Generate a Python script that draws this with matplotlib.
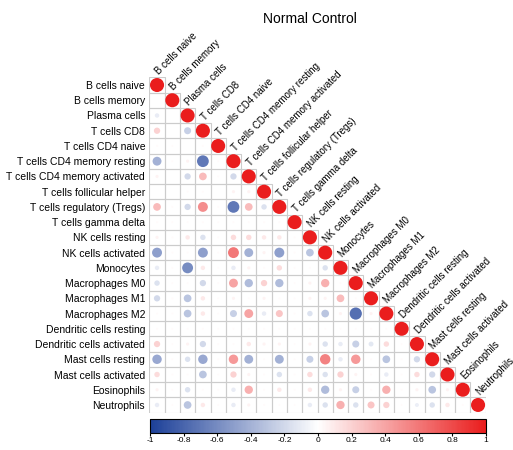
import numpy as np
import matplotlib
matplotlib.use("Agg")
import matplotlib.pyplot as plt
from matplotlib.patches import Circle, Rectangle
from matplotlib.colors import LinearSegmentedColormap, Normalize
from matplotlib.cm import ScalarMappable

plt.rcParams['font.family'] = ['Liberation Sans', 'DejaVu Sans']

cell_types = ["B cells naive", "B cells memory", "Plasma cells", "T cells CD8",
              "T cells CD4 naive", "T cells CD4 memory resting",
              "T cells CD4 memory activated", "T cells follicular helper",
              "T cells regulatory (Tregs)", "T cells gamma delta",
              "NK cells resting", "NK cells activated", "Monocytes",
              "Macrophages M0", "Macrophages M1", "Macrophages M2",
              "Dendritic cells resting", "Dendritic cells activated",
              "Mast cells resting", "Mast cells activated", "Eosinophils",
              "Neutrophils"]

# lower triangle of the correlation matrix (row i holds columns 0..i-1)
lower_rows = [
    [],
    [0.0],
    [-0.1, 0.0],
    [0.2, 0.0, -0.25],
    [0.02, 0.02, 0.0, 0.02],
    [-0.4, 0.02, 0.05, -0.7, 0.02],
    [0.05, 0.0, -0.2, 0.3, 0.02, -0.2],
    [0.0, 0.0, 0.02, 0.02, 0.0, 0.05, 0.05],
    [0.3, 0.02, -0.2, 0.5, 0.02, -0.7, 0.3, -0.15],
    [0.02, 0.02, 0.02, 0.02, 0.02, 0.02, 0.02, 0.02, 0.02],
    [0.05, 0.02, 0.1, -0.15, 0.02, 0.15, 0.15, 0.1, 0.1, 0.02],
    [-0.5, 0.02, 0.02, -0.5, 0.02, 0.6, -0.4, 0.05, -0.5, 0.02, -0.3],
    [-0.1, 0.02, -0.6, 0.1, 0.02, -0.1, 0.05, 0.02, 0.15, 0.02, 0.02, -0.15],
    [-0.15, 0.02, 0.02, -0.2, 0.02, 0.4, -0.35, 0.2, -0.35, 0.02, 0.05, 0.35, 0.02],
    [-0.2, 0.02, -0.3, 0.1, 0.02, 0.05, 0.02, 0.05, 0.02, 0.02, 0.05, 0.05, 0.3, 0.02],
    [0.02, 0.02, -0.3, 0.1, 0.02, -0.25, 0.4, -0.1, 0.25, 0.02, -0.15, -0.3, 0.05, -0.75, 0.05],
    [0.02] * 16,
    [0.2, 0.02, 0.05, -0.2, 0.02, 0.02, 0.1, 0.05, 0.05, 0.02, 0.05, -0.15, -0.1,
     -0.25, -0.12, 0.15, 0.02],
    [-0.45, 0.02, -0.15, -0.45, 0.02, 0.45, -0.4, 0.02, -0.4, 0.02, -0.25, 0.55,
     -0.1, 0.45, 0.02, -0.3, 0.02, -0.2],
    [0.15, 0.02, 0.02, -0.3, 0.02, 0.2, 0.05, 0.02, -0.15, 0.02, 0.15, -0.15, 0.2,
     0.05, 0.02, -0.1, 0.02, 0.15, -0.2],
    [0.05, 0.02, -0.15, 0.02, 0.02, -0.1, 0.35, 0.02, 0.1, 0.02, 0.1, -0.35, 0.05,
     -0.25, 0.02, 0.35, 0.02, 0.05, -0.3, 0.05],
    [-0.1, 0.02, -0.3, 0.1, 0.02, -0.1, 0.05, 0.02, 0.02, 0.02, -0.1, -0.15, 0.35,
     -0.15, 0.25, 0.2, 0.02, -0.08, -0.15, 0.1, 0.02],
]

n = len(cell_types)
corr = np.eye(n)
for i, row in enumerate(lower_rows):
    for j, v in enumerate(row):
        corr[i, j] = v
        corr[j, i] = v

cmap = LinearSegmentedColormap.from_list("bwr_corr", ["#1c3f98", "#ffffff", "#ea1d1d"])
norm = Normalize(-1, 1)

fig = plt.figure(figsize=(5.13, 4.5), dpi=100)
ax = fig.add_axes([0.2912, 0.0831, 0.6556, 0.7449])
ax.set_xlim(-0.5, n - 0.5)
ax.set_ylim(n - 0.5, -0.5)

for i in range(n):
    for j in range(i + 1):
        ax.add_patch(Rectangle((j - 0.5, i - 0.5), 1, 1, facecolor='none',
                               edgecolor='#cccccc', linewidth=0.8))
        v = corr[i, j]
        rad = 0.46 * np.sqrt(abs(v))
        ax.add_patch(Circle((j, i), rad, facecolor=cmap(norm(v)), edgecolor='none'))

for s in ax.spines.values():
    s.set_visible(False)
ax.set_xticks([])
ax.set_yticks(range(n))
ax.set_yticklabels(cell_types, fontsize=7.5)
ax.tick_params(axis='y', length=0, pad=3)

for j, name in enumerate(cell_types):
    ax.text(j + 0.2, j - 0.55, name, rotation=45, rotation_mode='anchor',
            ha='left', va='bottom', fontsize=7)

fig.text(0.604, 0.958, "Normal Control", ha='center', va='center', fontsize=10)

cax = fig.add_axes([0.2924, 0.0378, 0.655, 0.031])
cb = fig.colorbar(ScalarMappable(norm=norm, cmap=cmap), cax=cax, orientation='horizontal')
ticks = np.round(np.arange(-1, 1.01, 0.2), 1)
cb.set_ticks(ticks)
cb.set_ticklabels(['-1' if t == -1 else '1' if t == 1 else '0' if t == 0 else f"{t:g}" for t in ticks])
cb.ax.tick_params(labelsize=6, length=2, pad=1)
cb.outline.set_linewidth(0.8)

fig.savefig("out.png", dpi=100)
